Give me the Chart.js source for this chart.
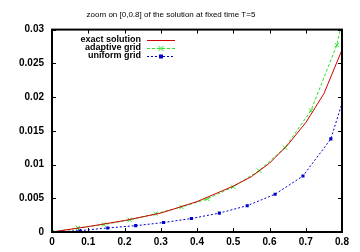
<!DOCTYPE html>
<html>
<head>
<meta charset="utf-8">
<script src="https://cdn.jsdelivr.net/npm/chart.js@4"></script>
<style>
  html, body { margin: 0; padding: 0; background: #fff; }
  #wrap { width: 360px; height: 252px; }
</style>
</head>
<body>
<div id="wrap"><canvas id="solChart" width="360" height="252"></canvas></div>
<script>
// exact solution
const exactX = [0, 0.1, 0.2, 0.3, 0.4, 0.5, 0.55, 0.6, 0.65, 0.7, 0.75, 0.8];
const exactY = [0, 0.0008, 0.0017, 0.0028, 0.0045, 0.0068, 0.0082, 0.0102, 0.0129, 0.0162, 0.0205, 0.027];

// adaptive grid (step ~1/14)
const adaptX = [0, 0.0714, 0.1429, 0.2143, 0.2857, 0.3571, 0.4286, 0.5, 0.5714, 0.6429, 0.7143, 0.7857, 0.8571];
const adaptY = [0, 0.0006, 0.0011, 0.0018, 0.0027, 0.0037, 0.0049, 0.0067, 0.0091, 0.0125, 0.018, 0.0277, 0.045];

// uniform grid (step ~1/13)
const unifX = [0, 0.0769, 0.1538, 0.2308, 0.3077, 0.3846, 0.4615, 0.5385, 0.6154, 0.6923, 0.7692, 0.8462];
const unifY = [0, 0.0002, 0.0006, 0.00094, 0.0014, 0.002, 0.0028, 0.0039, 0.0056, 0.0083, 0.0138, 0.027];

const xTicks = ['0', '0.1', '0.2', '0.3', '0.4', '0.5', '0.6', '0.7', '0.8'];
const yTicks = ['0', '0.005', '0.01', '0.015', '0.02', '0.025', '0.03'];

const FONT = '"Liberation Sans", Arial, sans-serif';

function pts(xs, ys) {
  return xs.map((x, i) => ({ x: x, y: ys[i] }));
}

// frame + inward ticks on all four sides
const framePlugin = {
  id: 'frame',
  afterDatasetsDraw(chart) {
    const { ctx, chartArea: a, scales } = chart;
    ctx.save();
    ctx.strokeStyle = '#000';
    ctx.lineWidth = 1;
    const len = 4;
    scales.x.ticks.forEach(t => {
      const px = Math.round(scales.x.getPixelForValue(t.value)) + 0.5;
      ctx.beginPath();
      ctx.moveTo(px, a.bottom); ctx.lineTo(px, a.bottom - len);
      ctx.moveTo(px, a.top); ctx.lineTo(px, a.top + len);
      ctx.stroke();
    });
    scales.y.ticks.forEach(t => {
      const py = Math.round(scales.y.getPixelForValue(t.value)) + 0.5;
      ctx.beginPath();
      ctx.moveTo(a.left, py); ctx.lineTo(a.left + len, py);
      ctx.moveTo(a.right, py); ctx.lineTo(a.right - len, py);
      ctx.stroke();
    });
    ctx.lineWidth = 2;
    ctx.strokeRect(a.left, a.top, a.right - a.left, a.bottom - a.top);
    ctx.restore();
  }
};

// gnuplot-like key: text right aligned, sample line to the right
const keyPlugin = {
  id: 'key',
  afterDraw(chart) {
    const ctx = chart.ctx;
    const textRight = 141, x0 = 147, x1 = 175;
    let y = 40;
    ctx.save();
    ctx.font = 'bold 9px ' + FONT;
    ctx.textAlign = 'right';
    ctx.textBaseline = 'middle';
    chart.data.datasets.forEach(ds => {
      ctx.fillStyle = '#000';
      ctx.fillText(ds.label, textRight, y);
      ctx.strokeStyle = ds.borderColor;
      ctx.lineWidth = 1;
      ctx.setLineDash(ds.borderDash || []);
      ctx.beginPath();
      ctx.moveTo(x0, y + 0.5); ctx.lineTo(x1, y + 0.5);
      ctx.stroke();
      ctx.setLineDash([]);
      const mx = (x0 + x1) / 2;
      if (ds.pointStyle === 'crossRot') {
        ctx.beginPath();
        ctx.moveTo(mx - 2.5, y - 2); ctx.lineTo(mx + 2.5, y + 3);
        ctx.moveTo(mx + 2.5, y - 2); ctx.lineTo(mx - 2.5, y + 3);
        ctx.stroke();
      } else if (ds.pointStyle === 'rect') {
        ctx.fillStyle = ds.borderColor;
        ctx.fillRect(mx - 2, y - 1.5, 4, 4);
      }
      y += 8;
    });
    ctx.restore();
  }
};

const ctx = document.getElementById('solChart').getContext('2d');
new Chart(ctx, {
  type: 'line',
  data: {
    datasets: [{
      label: 'exact solution',
      data: pts(exactX, exactY),
      borderColor: 'rgb(210,0,0)',
      borderWidth: 1,
      pointRadius: 0,
      tension: 0
    }, {
      label: 'adaptive grid',
      data: pts(adaptX, adaptY),
      borderColor: 'rgb(40,225,40)',
      borderWidth: 1,
      borderDash: [3, 2],
      pointStyle: 'crossRot',
      pointRadius: 3,
      pointBorderWidth: 1,
      pointBackgroundColor: 'rgb(40,225,40)',
      tension: 0
    }, {
      label: 'uniform grid',
      data: pts(unifX, unifY),
      borderColor: 'rgb(0,0,205)',
      borderWidth: 1,
      borderDash: [2, 2],
      pointStyle: 'rect',
      pointRadius: 2.2,
      pointBorderWidth: 0,
      pointBackgroundColor: 'rgb(0,0,205)',
      tension: 0
    }]
  },
  options: {
    responsive: false,
    animation: false,
    devicePixelRatio: 1,
    layout: { padding: { left: 0, right: 18, top: 0, bottom: 0 } },
    plugins: {
      legend: { display: false },
      tooltip: { enabled: false },
      title: {
        display: true,
        text: 'zoom on [0,0.8] of the solution at fixed time T=5',
        color: '#000',
        font: { family: FONT, size: 8, weight: 'normal' },
        padding: { top: 10, bottom: 10 }
      }
    },
    scales: {
      x: {
        type: 'linear',
        min: 0, max: 0.8,
        grid: { display: false, drawTicks: false },
        border: { display: false },
        afterFit(s) { s.height = 20; },
        ticks: {
          stepSize: 0.1,
          padding: 4,
          maxRotation: 0,
          color: '#000',
          font: { family: FONT, size: 10, weight: 'bold' },
          callback: (v, i) => xTicks[i]
        }
      },
      y: {
        type: 'linear',
        min: 0, max: 0.03,
        grid: { display: false, drawTicks: false },
        border: { display: false },
        afterFit(s) { s.width = 52; },
        ticks: {
          stepSize: 0.005,
          padding: 8,
          color: '#000',
          font: { family: FONT, size: 10, weight: 'bold' },
          callback: (v, i) => yTicks[i]
        }
      }
    }
  },
  plugins: [framePlugin, keyPlugin]
});
</script>
</body>
</html>
